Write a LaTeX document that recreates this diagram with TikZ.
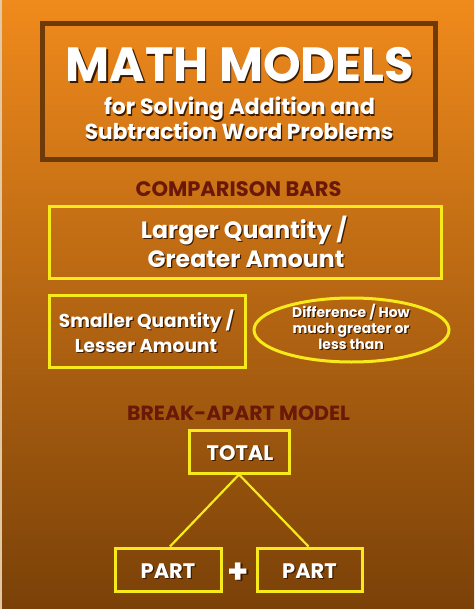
\documentclass[tikz,border=0pt]{standalone}
\usepackage{fontspec}
\setmainfont{Poppins}
\usetikzlibrary{shapes.geometric}
\definecolor{bgtop}{HTML}{F08A1C}
\definecolor{bgmid}{HTML}{C4700F}
\definecolor{bgbot}{HTML}{7A4108}
\definecolor{titleborder}{HTML}{6E3A08}
\definecolor{headc}{HTML}{6A1808}
\definecolor{yellowc}{HTML}{F7EA1A}
\definecolor{shadowc}{HTML}{3A1A00}
\definecolor{stripc}{HTML}{E2C9A4}
\newcommand\shd[1]{\leavevmode\rlap{\kern1.2pt\raisebox{-1.2pt}{\textcolor{shadowc}{#1}}}#1}
\newcommand\fs[1]{\fontsize{#1}{#1}\selectfont}
\begin{document}
\begin{tikzpicture}[x=1pt,y=-1pt,
  ybox/.style={draw=yellowc, line width=3pt, inner sep=0pt},
  wtext/.style={text=white, font=\bfseries, anchor=base, inner sep=0pt},
  head/.style={text=headc, font=\bfseries\fs{20.5}, anchor=base, inner sep=0pt},
  link/.style={draw=yellowc, line width=2.2pt}]
\useasboundingbox (0,0) rectangle (474,609);
\shade[top color=bgtop, middle color=bgmid, bottom color=bgbot] (0,0) rectangle (474,609);
\fill[stripc] (0,0) rectangle (2,609);
% title
\node[draw=titleborder, line width=5pt, minimum width=393pt, minimum height=136pt, inner sep=0pt] (title) at (238.5,92) {};
\node[wtext, font=\bfseries\fs{48}] (mm) at (240,82) {\shd{MATH MODELS}};
\node[wtext, font=\bfseries\fs{22}] (sub1) at (239.5,115) {\shd{for Solving Addition and}};
\node[wtext, font=\bfseries\fs{21.7}] (sub2) at (239,140) {\shd{Subtraction Word Problems}};
% comparison bars
\node[head, font=\bfseries\fs{21}] (cb) at (238.5,197) {COMPARISON BARS};
\node[ybox, minimum width=392pt, minimum height=71pt] (large) at (245.5,242.5) {};
\node[wtext, font=\bfseries\fs{23.6}] (l1) at (244,238) {\shd{Larger Quantity /}};
\node[wtext, font=\bfseries\fs{23.6}] (l2) at (246,267) {\shd{Greater Amount}};
\node[ybox, minimum width=196pt, minimum height=72pt] (small) at (147,331) {};
\node[wtext, font=\bfseries\fs{18.6}] (s1) at (146.5,327) {\shd{Smaller Quantity /}};
\node[wtext, font=\bfseries\fs{18.6}] (s2) at (146,352) {\shd{Lesser Amount}};
\node[ybox, ellipse, minimum width=195pt, minimum height=64pt] (diff) at (351.5,330) {};
\node[wtext, font=\bfseries\fs{14}] (d1) at (351,317) {\shd{Difference / How}};
\node[wtext, font=\bfseries\fs{14}] (d2) at (351,333) {\shd{much greater or}};
\node[wtext, font=\bfseries\fs{14}] (d3) at (351,349) {\shd{less than}};
% break-apart
\node[head] (ba) at (238.5,420) {BREAK-APART MODEL};
\node[ybox, minimum width=100pt, minimum height=43pt] (total) at (239,451.5) {};
\node[wtext, font=\bfseries\fs{21}] (tt) at (240,460) {\shd{TOTAL}};
\node[ybox, minimum width=106pt, minimum height=43pt] (pl) at (168,569.5) {};
\node[ybox, minimum width=105pt, minimum height=43pt] (pr) at (309.5,569.5) {};
\node[wtext, font=\bfseries\fs{21}] (plt) at (168,578) {\shd{PART}};
\node[wtext, font=\bfseries\fs{21}] (prt) at (309.5,578) {\shd{PART}};
\node[wtext, font=\bfseries\fs{34}] (plus) at (238.5,583) {\shd{+}};
\draw[link] (total.south) -- ([xshift=2pt]pl.north);
\draw[link] (total.south) -- ([xshift=-1pt]pr.north);
\end{tikzpicture}
\end{document}
